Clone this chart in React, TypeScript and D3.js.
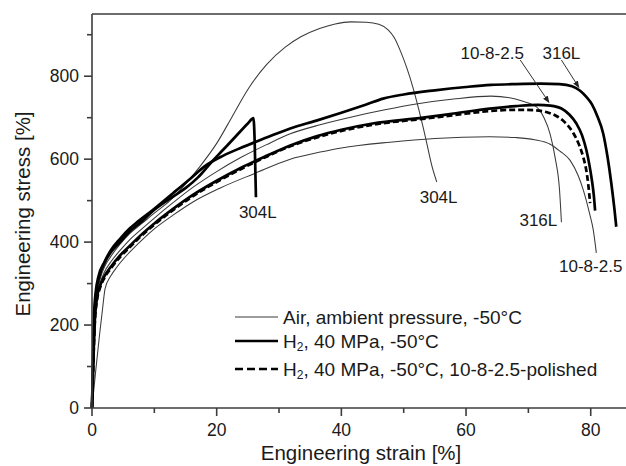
import React from 'react';
import * as d3 from 'd3';

type Pt = [number, number];

// ---- data (strain %, stress) ----
const air304L: Pt[] = [
  [0, 0], [0.3, 140], [0.5, 220], [0.8, 270], [1.3, 310], [2, 340], [3, 365], [4.5, 395], [6, 420],
  [8, 445], [10, 470], [12.5, 500], [15, 540], [17.3, 582], [20, 638], [22.5, 703], [25, 768],
  [28, 828], [31, 870], [33.5, 895], [36.5, 915], [39, 926], [41.5, 931], [44, 930], [46, 925],
  [47.5, 912], [48.5, 893], [49.5, 860], [50.5, 820], [51.5, 772], [52.5, 715], [53.5, 652],
  [54.5, 585], [55.3, 545],
];

const air316L: Pt[] = [
  [0, 0], [0.3, 140], [0.5, 215], [0.8, 265], [1.3, 300], [2, 328], [3, 352], [4.5, 380], [6, 405],
  [8, 432], [10, 458], [13, 495], [16, 530], [20, 570], [24, 605], [28, 635], [31.8, 661],
  [36.6, 683], [42, 703], [47, 719], [52, 733], [58, 745], [64, 752], [67, 748], [69, 740],
  [71.3, 726], [72.5, 700], [73.5, 660], [74.3, 603], [75, 525], [75.3, 448],
];

const air1082: Pt[] = [
  [0, 0], [0.6, 90], [1.2, 175], [1.7, 240], [2.1, 288], [3, 318], [4, 340], [6, 375], [8, 405],
  [10, 432], [13, 465], [16, 495], [20.5, 530], [26, 565], [31.8, 600], [36.6, 617], [40, 627],
  [47.8, 641], [55, 650], [63.8, 654], [68, 652], [71, 647], [73.5, 636], [75, 620], [76.7, 597],
  [78, 560], [78.8, 526], [79.8, 470], [80.4, 430], [80.9, 374],
];

const h2304L: Pt[] = [
  [0, 0], [0.2, 130], [0.4, 220], [0.7, 280], [1.2, 318], [2, 350], [3, 375], [4.5, 400], [6, 425],
  [8, 450], [10, 478], [12.5, 505], [15, 530], [17, 556], [19, 590], [21, 622], [23, 654],
  [25, 686], [25.9, 699], [26.1, 640], [26.3, 508],
];

const h2316L: Pt[] = [
  [0, 0], [0.2, 140], [0.35, 230], [0.6, 280], [1, 315], [2, 352], [3, 380], [4.5, 408], [6, 432],
  [7.4, 450], [9.8, 478], [13, 518], [16, 556], [18, 582], [21, 608], [24, 628], [28, 652],
  [31.8, 674], [36, 693], [40, 712], [44, 732], [46.7, 746], [50, 756], [55, 766], [60, 774],
  [64, 779], [68, 781], [72, 782], [75, 781], [77, 776], [78.3, 765], [79.3, 750], [80.2, 732],
  [81.1, 702], [82, 662], [82.7, 605], [83.3, 542], [83.8, 480], [84.1, 437],
];

const h21082: Pt[] = [
  [0, 0], [0.25, 130], [0.45, 210], [0.8, 265], [1.3, 295], [2, 318], [3, 340], [4.5, 368],
  [6, 390], [7.7, 415], [10, 445], [13, 480], [16, 512], [20, 548], [24, 580], [28, 608],
  [31.8, 633], [36, 655], [40, 671], [45, 686], [53.1, 700], [58, 710], [63.8, 722], [68, 728],
  [71.5, 731], [73.5, 729], [75.3, 722], [76.6, 707], [77.7, 686], [78.6, 658], [79.3, 622],
  [79.8, 585], [80.2, 548], [80.5, 512], [80.7, 476],
];

const h21082pol: Pt[] = [
  [0, 0], [0.25, 125], [0.45, 205], [0.8, 260], [1.3, 290], [2, 314], [3, 336], [4.5, 364],
  [6, 387], [7.7, 412], [10, 442], [13, 477], [16, 509], [20, 545], [24, 577], [28, 606],
  [31.8, 631], [36, 652], [40, 668], [45, 683], [53, 697], [58, 706], [63.8, 716], [68, 719],
  [71, 718], [73, 713], [74.5, 704], [75.9, 688], [77.2, 663], [78.2, 632], [78.8, 605],
  [79.3, 572], [79.6, 540], [79.9, 494],
];

const xMajor = [0, 20, 40, 60, 80];
const xMinor = [10, 30, 50, 70];
const yMajor = [0, 200, 400, 600, 800];
const yMinor = [100, 300, 500, 700, 900];

const annotationTexts = ['304L', '304L', '316L', '10-8-2.5', '10-8-2.5', '316L'];
const annotationAt: Pt[] = [[26.6, 472], [55.6, 508], [71.6, 451], [80.0, 341], [64.2, 854], [75.3, 854]];
const arrowFrom: Pt[] = [[68.7, 839], [75.3, 839]];
const arrowTo: Pt[] = [[73.3, 737], [78.1, 773]];

const legendTexts = ['Air, ambient pressure, -50°C', ', 40 MPa, -50°C', ', 40 MPa, -50°C, 10-8-2.5-polished'];

const W = 626;
const H = 466;
const FONT = "'Liberation Sans', Arial, Helvetica, sans-serif";

export default function App() {
  const x = d3.scaleLinear().domain([0, 86]).range([92, 92 + 86 * 6.234]);
  const y = d3.scaleLinear().domain([0, 950]).range([408, 14]);
  const line = d3
    .line<Pt>()
    .x((d) => x(d[0]))
    .y((d) => y(d[1]))
    .curve(d3.curveMonotoneX);

  const thin = { stroke: '#3a3a3a', strokeWidth: 1.05, fill: 'none' };
  const thick = { stroke: '#000', strokeWidth: 2.7, fill: 'none' };
  const dashed = { stroke: '#000', strokeWidth: 2.7, fill: 'none', strokeDasharray: '6,3' };

  const x0 = x(0);
  const y0 = y(0);
  const xEnd = W;
  const yTop = y(950);
  const axisColor = '#3c3c3c';
  const textColor = '#1a1a1a';

  const legendY = [317, 341, 369];

  return (
    <svg
      width={W}
      height={H}
      style={{ position: 'absolute', left: 0, top: 0, background: '#fff' }}
      fontFamily={FONT}
    >
      <defs>
        <marker id="arr" viewBox="0 0 10 10" refX="9" refY="5" markerWidth="7" markerHeight="7" orient="auto">
          <path d="M0,1 L10,5 L0,9 z" fill="#222" />
        </marker>
      </defs>
      <rect x={0} y={0} width={W} height={H} fill="#fff" />

      {/* curves */}
      <path d={line(air304L) || ''} {...thin} />
      <path d={line(air316L) || ''} {...thin} />
      <path d={line(air1082) || ''} {...thin} />
      <path d={line(h2304L) || ''} {...thick} />
      <path d={line(h2316L) || ''} {...thick} />
      <path d={line(h21082) || ''} {...thick} />
      <path d={line(h21082pol) || ''} {...dashed} />

      {/* frame / axes */}
      <line x1={x0} x2={xEnd} y1={yTop} y2={yTop} stroke={axisColor} strokeWidth={1.6} />
      <line x1={x0} x2={x0} y1={yTop} y2={y0} stroke={axisColor} strokeWidth={1.6} />
      <line x1={x0} x2={xEnd} y1={y0} y2={y0} stroke={axisColor} strokeWidth={1.6} />

      {xMajor.map((t) => (
        <g key={'xm' + t}>
          <line x1={x(t)} x2={x(t)} y1={y0} y2={y0 + 8} stroke={axisColor} strokeWidth={1.6} />
          <text x={x(t)} y={y0 + 28} textAnchor="middle" fontSize={17.5} fill={textColor}>
            {t}
          </text>
        </g>
      ))}
      {xMinor.map((t) => (
        <line key={'xn' + t} x1={x(t)} x2={x(t)} y1={y0} y2={y0 + 5} stroke={axisColor} strokeWidth={1.6} />
      ))}
      {yMajor.map((t) => (
        <g key={'ym' + t}>
          <line x1={x0 - 8} x2={x0} y1={y(t)} y2={y(t)} stroke={axisColor} strokeWidth={1.6} />
          <text x={x0 - 13} y={y(t)} textAnchor="end" dominantBaseline="central" fontSize={17.5} fill={textColor}>
            {t}
          </text>
        </g>
      ))}
      {yMinor.map((t) => (
        <line key={'yn' + t} x1={x0 - 5} x2={x0} y1={y(t)} y2={y(t)} stroke={axisColor} strokeWidth={1.6} />
      ))}

      {/* axis titles */}
      <text x={361} y={460} textAnchor="middle" fontSize={20.5} fill={textColor}>
        Engineering strain [%]
      </text>
      <text
        transform="translate(30,214) rotate(-90)"
        textAnchor="middle"
        fontSize={20.5}
        fill={textColor}
      >
        Engineering stress [%]
      </text>

      {/* annotations */}
      {annotationTexts.map((t, i) => (
        <text
          key={'an' + i}
          x={x(annotationAt[i][0])}
          y={y(annotationAt[i][1])}
          textAnchor="middle"
          dominantBaseline="central"
          fontSize={17}
          fill={textColor}
        >
          {t}
        </text>
      ))}
      {arrowFrom.map((p, i) => (
        <line
          key={'ar' + i}
          x1={x(p[0])}
          y1={y(p[1])}
          x2={x(arrowTo[i][0])}
          y2={y(arrowTo[i][1])}
          stroke="#333"
          strokeWidth={1}
          markerEnd="url(#arr)"
        />
      ))}

      {/* legend */}
      <line x1={235} x2={278} y1={legendY[0]} y2={legendY[0]} {...thin} />
      <line x1={235} x2={278} y1={legendY[1]} y2={legendY[1]} {...thick} />
      <line x1={235} x2={278} y1={legendY[2]} y2={legendY[2]} {...dashed} strokeDasharray="8,4" />
      <text x={283} y={legendY[0]} dominantBaseline="central" fontSize={19} fill={textColor}>
        {legendTexts[0]}
      </text>
      {[1, 2].map((i) => (
        <text key={'lg' + i} x={283} y={legendY[i]} dominantBaseline="central" fontSize={19} fill={textColor}>
          H
          <tspan fontSize={12} dy={6}>2</tspan>
          <tspan dy={-6}>{legendTexts[i]}</tspan>
        </text>
      ))}
    </svg>
  );
}
